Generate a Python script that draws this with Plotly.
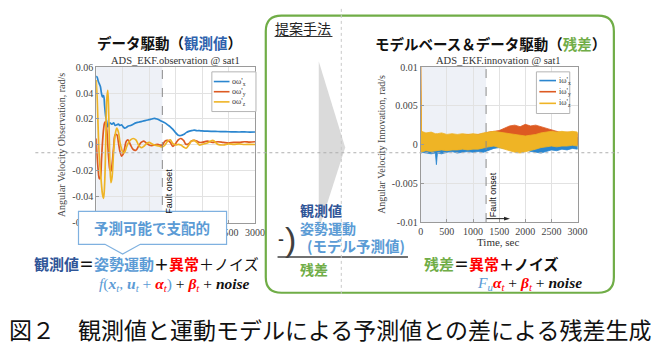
import plotly.graph_objects as go

# ---------------- data ----------------
t_obs = [0, 20, 40, 60, 80, 100, 120, 140, 160, 180, 200, 220, 240, 260, 280, 300, 330, 360, 390, 420,
         450, 480, 510, 540, 570, 600, 650, 700, 750, 800, 850, 900, 950, 1000, 1050, 1100, 1150, 1200,
         1250, 1300, 1350, 1400, 1450, 1500, 1550, 1600, 1650, 1700, 1750, 1800, 1850, 1900, 1950, 2000,
         2100, 2200, 2300, 2400, 2500, 2600, 2700, 2800, 2900, 3000]
obs_wx = [0.053, 0.052, 0.049, 0.047, 0.045, 0.040, 0.037, 0.038, 0.030, 0.022, 0.018, 0.014, 0.016, 0.017,
          0.0165, 0.016, 0.017, 0.015, 0.0155, 0.016, 0.015, 0.0155, 0.014, 0.013, 0.0135, 0.0145, 0.015,
          0.016, 0.017, 0.0175, 0.018, 0.0185, 0.019, 0.0195, 0.020, 0.0205, 0.020, 0.019, 0.018, 0.017,
          0.0155, 0.014, 0.012, 0.0095, 0.0075, 0.0073, 0.008, 0.0095, 0.0105, 0.011, 0.0115, 0.011, 0.011,
          0.0108, 0.0106, 0.0105, 0.0104, 0.0103, 0.0102, 0.0101, 0.0100, 0.0101, 0.0099, 0.0100]
obs_wy = [0.005, -0.010, -0.020, -0.026, -0.025, -0.012, 0.002, 0.012, 0.017, 0.018, 0.012, 0.000, -0.012,
          -0.019, -0.020, -0.015, -0.002, 0.008, 0.008, 0.002, -0.005, -0.0085, -0.007, -0.002, 0.003, 0.004,
          0.000, -0.0035, -0.004, -0.001, 0.002, 0.003, 0.0015, 0.000, -0.0005, 0.000, 0.0005, 0.000, 0.000,
          0.003, 0.0035, 0.002, -0.001, 0.001, 0.004, 0.005, 0.0035, 0.0005, 0.001, 0.003, 0.0035, 0.003,
          0.002, 0.002, 0.003, 0.002, 0.0025, 0.002, 0.0015, 0.002, 0.002, 0.0025, 0.0022, 0.0025]
obs_wz = [0.050, 0.035, 0.010, -0.010, -0.020, -0.030, -0.038, -0.041, -0.030, 0.000, 0.035, 0.042, 0.020,
          -0.015, -0.029, -0.025, -0.005, 0.008, 0.013, 0.010, 0.002, -0.003, -0.006, -0.0055, -0.002, 0.001,
          0.004, 0.005, 0.004, 0.000, -0.002, -0.001, 0.001, 0.002, 0.001, 0.000, -0.0005, -0.001, -0.0015,
          0.000, 0.003, 0.004, 0.001, 0.000, 0.0005, 0.000, -0.0015, -0.0025, 0.000, 0.003, 0.0035, 0.002,
          0.000, 0.0005, 0.0015, 0.0035, 0.0005, 0.000, 0.0008, 0.0005, 0.0008, 0.0004, 0.0005, 0.0004]

t_inn = [0, 15, 100, 200, 280, 300, 320, 400, 500, 600, 700, 800, 900, 1000, 1100, 1200, 1300, 1400, 1500,
         1600, 1700, 1800, 1900, 2000, 2100, 2200, 2300, 2400, 2500, 2600, 2700, 2800, 2900, 3000]
inn_wx_hi = [0.0015, 0.0010, 0.0012, 0.0006, 0.0007, 0.0005, 0.0007, 0.0006, 0.0005, 0.0006, 0.0005, 0.0006,
             0.0007, 0.0008, 0.0007, 0.0009, 0.0010, 0.0010, 0.0008, 0.0009, 0.0009, 0.0008, 0.0006, 0.0005,
             0.0006, 0.0007, 0.0009, 0.0008, 0.0009, 0.0010, 0.0009, 0.0010, 0.0010, 0.0009]
inn_wx_lo = [-0.0012, -0.0010, -0.0011, -0.0012, -0.0011, -0.0026, -0.0011, -0.0012, -0.0010, -0.0009,
             -0.0011, -0.0010, -0.0009, -0.0010, -0.0009, -0.0010, -0.0008, -0.0005, -0.0004, -0.0005,
             -0.0006, -0.0004, -0.0003, -0.0006, -0.0009, -0.0010, -0.0011, -0.0009, -0.0007, -0.0008,
             -0.0006, -0.0007, -0.0005, -0.0006]
inn_wy_hi = [0.0110, 0.0014, 0.0012, 0.0012, 0.0011, 0.0011, 0.0012, 0.0012, 0.0011, 0.0012, 0.0011, 0.0012,
             0.0013, 0.0012, 0.0013, 0.0014, 0.0016, 0.0017, 0.0018, 0.0021, 0.0024, 0.0025, 0.0023, 0.0026,
             0.0024, 0.0025, 0.0023, 0.0020, 0.0018, 0.0016, 0.0015, 0.0016, 0.0015, 0.0014]
inn_wy_lo = [-0.0008, -0.0008, -0.0007, -0.0008, -0.0007, -0.0007, -0.0007, -0.0006, -0.0007, -0.0006,
             -0.0006, -0.0005, -0.0005, -0.0004, -0.0004, -0.0002, 0.0000, 0.0002, 0.0003, 0.0005, 0.0006,
             0.0007, 0.0007, 0.0006, 0.0007, 0.0006, 0.0004, 0.0002, 0.0001, 0.0001, 0.0000, 0.0001, 0.0000,
             0.0000]
inn_wz_hi = [0.0120, 0.0017, 0.0015, 0.0016, 0.0014, 0.0014, 0.0014, 0.0015, 0.0013, 0.0014, 0.0013, 0.0014,
             0.0013, 0.0014, 0.0013, 0.0015, 0.0016, 0.0017, 0.0016, 0.0015, 0.0014, 0.0013, 0.0012, 0.0011,
             0.0012, 0.0013, 0.0015, 0.0016, 0.0017, 0.0016, 0.0017, 0.0016, 0.0017, 0.0016]
inn_wz_lo = [-0.0010, -0.0009, -0.0008, -0.0009, -0.0008, -0.0008, -0.0008, -0.0007, -0.0008, -0.0007,
             -0.0007, -0.0006, -0.0007, -0.0006, -0.0006, -0.0005, -0.0003, -0.0002, -0.0003, -0.0005,
             -0.0008, -0.0010, -0.0011, -0.0010, -0.0008, -0.0006, -0.0004, -0.0003, -0.0002, -0.0003,
             -0.0002, -0.0002, -0.0001, -0.0002]

fault_t = 1250
x_ticks = [0, 500, 1000, 1500, 2000, 2500, 3000]
x_ticktext = ["0", "500", "1000", "1500", "2000", "2500", "3000"]
x_ticktext_obs = ["", "", "", "", "", "2500", "3000"]  # others hidden behind the callout
obs_yticks = [-0.06, -0.04, -0.02, 0, 0.02, 0.04, 0.06]
obs_yticktext = ["-0.06", "-0.04", "-0.02", "0", "0.02", "0.04", "0.06"]
inn_yticks = [-0.01, -0.005, 0, 0.005, 0.01]
inn_yticktext = ["-0.01", "-0.005", "0", "0.005", "0.01"]

obs_names = ["oω'<sub>x</sub>", "oω'<sub>y</sub>", "oω'<sub>z</sub>"]
inn_names = ["iω'<sub>x</sub>", "iω'<sub>y</sub>", "iω'<sub>z</sub>"]

# ---------------- styling ----------------
W, H = 668, 353
C_BLUE, C_ORANGE, C_YELLOW = "#2b86cf", "#dd5a22", "#efb425"
SERIF = "Liberation Serif"
CJK = "Noto Sans CJK JP"
DKBLUE, LTBLUE, RED, GREEN = "#2f5597", "#5b9bd5", "#ff0000", "#70ad47"


def px(x):
    return x / W


def py(y):
    return 1 - y / H


def path(pts, close=True):
    s = ""
    for cmd, *xy in pts:
        if cmd == "Q":
            s += "Q{},{} {},{} ".format(px(xy[0]), py(xy[1]), px(xy[2]), py(xy[3]))
        else:
            s += "{}{},{} ".format(cmd, px(xy[0]), py(xy[1]))
    return s + ("Z" if close else "")


fig = go.Figure()

# left: observation lines
for vals, col, nm in zip([obs_wx, obs_wy, obs_wz], [C_BLUE, C_ORANGE, C_YELLOW], obs_names):
    fig.add_trace(go.Scatter(x=t_obs, y=vals, mode="lines", name=nm, line=dict(color=col, width=1.7),
                             xaxis="x", yaxis="y", showlegend=False, line_shape="spline"))

# right: innovation noise bands
for hi, lo, col, nm in zip([inn_wx_hi, inn_wy_hi, inn_wz_hi], [inn_wx_lo, inn_wy_lo, inn_wz_lo],
                           [C_BLUE, C_ORANGE, C_YELLOW], inn_names):
    fig.add_trace(go.Scatter(x=t_inn + t_inn[::-1], y=hi + lo[::-1], mode="lines", fill="toself",
                             fillcolor=col, line=dict(color=col, width=0.8), name=nm,
                             xaxis="x2", yaxis="y2", showlegend=False))

axis_common = dict(showgrid=True, gridcolor="#e2e2e2", gridwidth=1, showline=True, linecolor="#9a9a9a",
                   mirror=True, ticks="inside", ticklen=3, tickcolor="#9a9a9a", zeroline=False,
                   tickfont=dict(family=SERIF, size=10, color="#444"))

fig.update_layout(
    width=W, height=H, margin=dict(l=0, r=0, t=0, b=0), paper_bgcolor="white", plot_bgcolor="white",
    showlegend=False,
    xaxis=dict(domain=[px(95), px(257)], range=[0, 3000], tickvals=x_ticks, ticktext=x_ticktext_obs,
               anchor="y", **axis_common),
    yaxis=dict(domain=[py(225), py(64)], range=[-0.06, 0.06], tickvals=obs_yticks, ticktext=obs_yticktext,
               anchor="x", title=dict(text="Angular Velocity Observation, rad/s", standoff=4,
                                      font=dict(family=SERIF, size=10, color="#444")), **axis_common),
    xaxis2=dict(domain=[px(426), px(586)], range=[0, 3000], tickvals=x_ticks, ticktext=x_ticktext,
                anchor="y2", **axis_common),
    yaxis2=dict(domain=[py(224), py(64)], range=[-0.01, 0.01], tickvals=inn_yticks, ticktext=inn_yticktext,
                anchor="x2", title=dict(text="Angular Velocity Innovation, rad/s", standoff=4,
                                        font=dict(family=SERIF, size=10, color="#444")), **axis_common),
)

shapes = []
# shaded pre-fault region + fault lines
for xr, yr, yl in [("x", "y", (-0.06, 0.06)), ("x2", "y2", (-0.01, 0.01))]:
    shapes.append(dict(type="rect", xref=xr, yref=yr, x0=0, x1=fault_t, y0=yl[0], y1=yl[1],
                       fillcolor="#eef1f7", line=dict(width=0), layer="below"))
    shapes.append(dict(type="line", xref=xr, yref=yr, x0=fault_t, x1=fault_t, y0=yl[0], y1=yl[1],
                       line=dict(color="#8a8a8a", width=1, dash="dash"), layer="above"))

# green rounded frame
r = 16
x0, x1, y0, y1 = 268, 623, 11, 297
shapes.append(dict(type="path", xref="paper", yref="paper", layer="above",
                   path=path([("M", x0 + r, y0), ("L", x1 - r, y0), ("Q", x1, y0, x1, y0 + r),
                              ("L", x1, y1 - r), ("Q", x1, y1, x1 - r, y1), ("L", x0 + r, y1),
                              ("Q", x0, y1, x0, y1 - r), ("L", x0, y0 + r), ("Q", x0, y0, x0 + r, y0)]),
                   line=dict(color=GREEN, width=2.2)))
# grey chevron
shapes.append(dict(type="path", xref="paper", yref="paper", layer="below",
                   path=path([("M", 322, 58), ("L", 349, 147), ("L", 322, 232)]),
                   fillcolor="#dadada", line=dict(width=0)))
# callout
shapes.append(dict(type="path", xref="paper", yref="paper", layer="above",
                   path=path([("M", 77, 213), ("L", 228, 213), ("L", 228, 247), ("L", 140, 247),
                              ("L", 122, 257), ("L", 104, 247), ("L", 77, 247)]),
                   fillcolor="white", line=dict(color="#7fb1e0", width=1.2)))
# underline for 提案手法
shapes.append(dict(type="line", xref="paper", yref="paper", x0=px(277), x1=px(336), y0=py(32.5), y1=py(32.5),
                   line=dict(color="#333", width=1)))
# fraction bar
shapes.append(dict(type="line", xref="paper", yref="paper", x0=px(280), x1=px(413), y0=py(260), y1=py(260),
                   line=dict(color="#404040", width=1.5)))
# guide dotted lines
shapes.append(dict(type="line", xref="paper", yref="paper", x0=px(33), x1=px(628), y0=py(152.5), y1=py(152.5),
                   line=dict(color="#b0b0b0", width=1, dash="dot"), layer="above"))
shapes.append(dict(type="line", xref="paper", yref="paper", x0=px(345), x1=px(345), y0=py(4), y1=py(300),
                   line=dict(color="#c8c8c8", width=1, dash="dot"), layer="above"))
# fault arrow (right plot)
shapes.append(dict(type="line", xref="paper", yref="paper", x0=px(493), x1=px(512), y0=py(220.5), y1=py(220.5),
                   line=dict(color="#222", width=1), layer="above"))
shapes.append(dict(type="path", xref="paper", yref="paper", layer="above",
                   path=path([("M", 511, 218.5), ("L", 517, 220.5), ("L", 511, 222.5)]),
                   fillcolor="#222", line=dict(width=0)))


# legend boxes (manual)
def legend(bx0, bx1, by0, by1, lx0, lx1, tx, rows, names):
    shapes.append(dict(type="rect", xref="paper", yref="paper", x0=px(bx0), x1=px(bx1), y0=py(by1), y1=py(by0),
                       fillcolor="white", line=dict(color="#b5b5b5", width=1), layer="above"))
    out = []
    for yy, col, nm in zip(rows, [C_BLUE, C_ORANGE, C_YELLOW], names):
        shapes.append(dict(type="line", xref="paper", yref="paper", x0=px(lx0), x1=px(lx1), y0=py(yy), y1=py(yy),
                           line=dict(color=col, width=1.6), layer="above"))
        out.append(dict(x=px(tx), y=py(yy), xref="paper", yref="paper", text=nm, showarrow=False,
                        xanchor="left", yanchor="middle", borderpad=0,
                        font=dict(family=SERIF, size=8, color="#333")))
    return out


anns = []
anns += legend(213, 258, 69, 110, 215, 231, 233, [79, 89.5, 100], obs_names)
anns += legend(544, 578, 69, 112, 547, 564, 566, [78, 89.5, 101.5], inn_names)
fig.update_layout(shapes=shapes)


def txt(x, y, text, size, color="#222", family=CJK, xanchor="center", angle=0):
    return dict(x=px(x), y=py(y), xref="paper", yref="paper", text=text, showarrow=False, xanchor=xanchor,
                yanchor="middle", textangle=angle, borderpad=0, font=dict(family=family, size=size, color=color))


anns += [
    txt(170, 39, '<b>データ駆動（<span style="color:#2e62ad">観測値</span>）</b>', 14.5, "#111"),
    txt(497, 40, '<b>モデルベース＆データ駆動（<span style="color:#70ad47">残差</span>）</b>', 14.5, "#111"),
    txt(176, 57, "ADS_EKF.observation @ sat1", 10.5, "#333", SERIF),
    txt(505, 57, "ADS_EKF.innovation @ sat1", 10.5, "#333", SERIF),
    txt(505, 245, "Time, sec", 11, "#333", SERIF),
    txt(169, 192, "Fault onset", 9, "#111", "Liberation Sans", angle=-90),
    txt(500, 196, "Fault onset", 9, "#111", "Liberation Sans", angle=-90),
    txt(306, 24, "提案手法", 14, "#222"),
    txt(152, 230, "<b>予測可能で支配的</b>", 14.5, LTBLUE),
    txt(146, 267, '<b><span style="color:#2f5597">観測値</span>＝<span style="color:#5b9bd5">姿勢運動</span>'
                  '＋<span style="color:#ff0000">異常</span></b>＋ノイズ', 15, "#111"),
    txt(175, 288, '<span style="color:#5b9bd5"><i>f</i>(<b><i>x</i></b><sub><i>t</i></sub>, '
                  '<b><i>u</i></b><sub><i>t</i></sub> + </span><span style="color:#ff0000"><b><i>α</i></b>'
                  '<sub><i>t</i></sub></span><span style="color:#5b9bd5">)</span> + '
                  '<span style="color:#ff0000"><b><i>β</i></b><sub><i>t</i></sub></span> + <b><i>noise</i></b>',
        15.5, "#111", SERIF),
    txt(498, 267, '<b><span style="color:#70ad47">残差</span>＝<span style="color:#ff0000">異常</span>＋ノイズ</b>',
        15, "#111"),
    txt(537, 287, '<span style="color:#5b9bd5"><i>F</i><sub><i>u</i></sub></span><span style="color:#ff0000">'
                  '<b><i>α</i></b><sub><i>t</i></sub></span> + <span style="color:#ff0000"><b><i>β</i></b>'
                  '<sub><i>t</i></sub></span> + <b><i>noise</i></b>', 15.5, "#111", SERIF),
    txt(302, 212, "<b>観測値</b>", 14, DKBLUE, xanchor="left"),
    txt(302, 230, "<b>姿勢運動</b>", 14, LTBLUE, xanchor="left"),
    txt(309, 248, "<b>(モデル予測値)</b>", 14.5, LTBLUE, xanchor="left"),
    txt(302, 272, "<b>残差</b>", 14, GREEN, xanchor="left"),
    txt(284, 241, "<b>-</b>", 16, "#333"),
    txt(293, 242, ")", 34, "#404040", "Liberation Sans"),
    txt(333, 334, "図２　観測値と運動モデルによる予測値との差による残差生成", 23, "#111"),
]
fig.update_layout(annotations=anns)

fig.write_html("out.html")
